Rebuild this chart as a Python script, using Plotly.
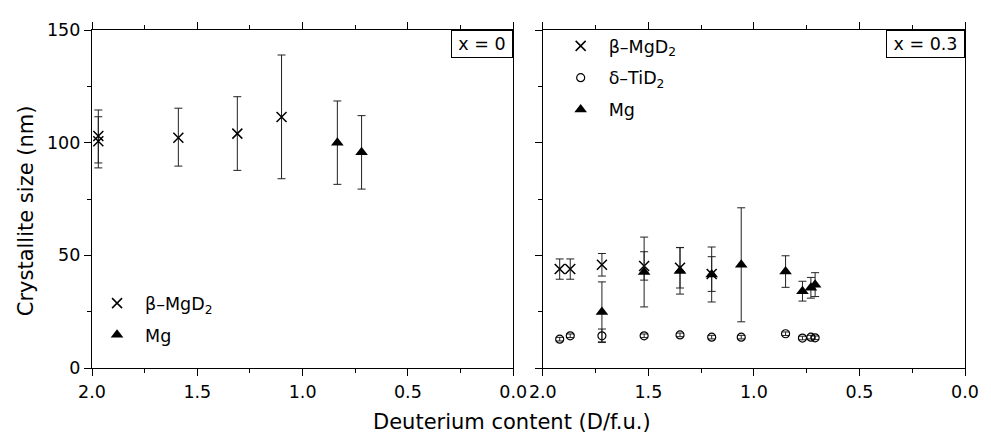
import plotly.graph_objects as go

# ---------------- data ----------------
# Left panel (x = 0)
L_mgd2_D = [1.97, 1.97, 1.59, 1.31, 1.10]
L_mgd2_size = [103.0, 100.6, 102.2, 104.0, 111.4]
L_mgd2_err_plus = [11.5, 10.9, 13.1, 16.4, 27.5]
L_mgd2_err_minus = [14.2, 9.6, 12.6, 16.3, 27.4]

L_mg_D = [0.835, 0.72]
L_mg_size = [100.0, 95.7]
L_mg_err = [18.5, 16.3]

# Right panel (x = 0.3)
R_mgd2_D = [1.92, 1.87, 1.72, 1.52, 1.35, 1.20]
R_mgd2_size = [43.9, 43.9, 45.8, 45.3, 44.5, 41.7]
R_mgd2_err = [4.5, 4.5, 5.0, 6.3, 9.0, 7.7]

R_tid2_D = [1.92, 1.87, 1.72, 1.52, 1.35, 1.20, 1.06, 0.85, 0.77, 0.73, 0.71]
R_tid2_size = [12.8, 14.3, 14.3, 14.3, 14.7, 13.7, 13.7, 15.2, 13.3, 13.7, 13.4]
R_tid2_err = [0.8, 0.8, 3.0, 0.8, 0.8, 0.8, 0.8, 0.8, 0.8, 0.8, 0.8]

R_mg_D = [1.72, 1.52, 1.35, 1.20, 1.06, 0.85, 0.77, 0.73, 0.71]
R_mg_size = [24.9, 42.6, 43.1, 41.5, 45.8, 42.8, 34.1, 35.6, 37.0]
R_mg_err = [13.3, 15.5, 10.3, 12.2, 25.3, 7.0, 4.4, 4.6, 5.3]

name_mgd2 = "β–MgD<sub>2</sub>"
name_tid2 = "δ–TiD<sub>2</sub>"
name_mg = "Mg"
label_left = "x = 0"
label_right = "x = 0.3"
x_title = "Deuterium content (D/f.u.)"
y_title = "Crystallite size (nm)"

FONT = "DejaVu Sans, Liberation Sans, Arial, sans-serif"
ERR_COLOR = "#222222"

def err(arr, minus=None):
    d = dict(type="data", array=arr, visible=True, color=ERR_COLOR, thickness=1, width=4)
    if minus is not None:
        d["symmetric"] = False
        d["arrayminus"] = minus
    return d

fig = go.Figure()

cross = dict(symbol="x-thin-open", size=10, color="black", line=dict(width=1.5, color="black"))
tri = dict(symbol="triangle-up", size=11, color="black", line=dict(width=0))
circ = dict(symbol="circle-open", size=8, color="black", line=dict(width=1.2, color="black"))

fig.add_trace(go.Scatter(x=L_mgd2_D, y=L_mgd2_size, mode="markers", name=name_mgd2,
                         marker=cross, error_y=err(L_mgd2_err_plus, L_mgd2_err_minus),
                         xaxis="x", yaxis="y", legend="legend", legendgroup="a"))
fig.add_trace(go.Scatter(x=L_mg_D, y=L_mg_size, mode="markers", name=name_mg,
                         marker=tri, error_y=err(L_mg_err),
                         xaxis="x", yaxis="y", legend="legend", legendgroup="b"))

fig.add_trace(go.Scatter(x=R_mgd2_D, y=R_mgd2_size, mode="markers", name=name_mgd2,
                         marker=cross, error_y=err(R_mgd2_err),
                         xaxis="x2", yaxis="y2", legend="legend2", legendgroup="c"))
fig.add_trace(go.Scatter(x=R_tid2_D, y=R_tid2_size, mode="markers", name=name_tid2,
                         marker=circ, error_y=err(R_tid2_err),
                         xaxis="x2", yaxis="y2", legend="legend2", legendgroup="d"))
fig.add_trace(go.Scatter(x=R_mg_D, y=R_mg_size, mode="markers", name=name_mg,
                         marker=tri, error_y=err(R_mg_err),
                         xaxis="x2", yaxis="y2", legend="legend2", legendgroup="e"))

# The page body has an 8px default margin: the figure is drawn 8px right/down.
OFF = 8
PAGE_W, PAGE_H = 991, 437
W, H = PAGE_W - OFF, PAGE_H - OFF
# plot-area edges in page pixels
P_LEFT, P_RIGHT, P_TOP, P_BOTTOM = 92, 977, 25, 368
ML = P_LEFT - OFF
MT = P_TOP - OFF
MR = PAGE_W - P_RIGHT
MB = PAGE_H - P_BOTTOM
PW = P_RIGHT - P_LEFT
PH = P_BOTTOM - P_TOP

def px_x(p):
    return (p - P_LEFT) / PW

def px_y(p):
    return (P_BOTTOM - p) / PH

d_left = [0, px_x(519)]
d_right = [px_x(549), 1]

xax = dict(range=[2.0, 0.0], autorange=False, dtick=0.5, tick0=0, tickformat=".1f",
           ticks="outside", ticklen=7, tickwidth=1.2, tickcolor="black",
           showline=True, linecolor="black", linewidth=1.2, mirror="ticks",
           showgrid=False, zeroline=False,
           minor=dict(dtick=0.25, ticks="outside", ticklen=4, tickwidth=1.2, tickcolor="black", showgrid=False),
           tickfont=dict(family=FONT, size=17.5, color="black"), ticklabelstandoff=1)
yax = dict(range=[0, 150], autorange=False, dtick=50, tick0=0,
           ticks="outside", ticklen=7, tickwidth=1.2, tickcolor="black",
           showline=True, linecolor="black", linewidth=1.2, mirror=True,
           showgrid=False, zeroline=False,
           minor=dict(dtick=25, ticks="outside", ticklen=4, tickwidth=1.2, tickcolor="black", showgrid=False),
           tickfont=dict(family=FONT, size=17.5, color="black"), ticklabelstandoff=0)

fig.update_layout(
    width=W, height=H,
    margin=dict(l=ML, r=MR, t=MT, b=MB, pad=0),
    paper_bgcolor="white", plot_bgcolor="white",
    font=dict(family=FONT, size=17.5, color="black"),
    xaxis=dict(domain=d_left, anchor="y", **xax),
    yaxis=dict(domain=[0, 1], anchor="x", **yax),
    xaxis2=dict(domain=d_right, anchor="y2", **xax),
    yaxis2=dict(domain=[0, 1], anchor="x2", showticklabels=False, **yax),
    legend=dict(x=px_x(89), y=px_y(284), xanchor="left", yanchor="top",
                bgcolor="rgba(0,0,0,0)", borderwidth=0, tracegroupgap=6,
                font=dict(family=FONT, size=17.5, color="black"), itemwidth=46),
    legend2=dict(x=px_x(559), y=px_y(23), xanchor="left", yanchor="top",
                 bgcolor="rgba(0,0,0,0)", borderwidth=0, tracegroupgap=6,
                 font=dict(family=FONT, size=17.5, color="black"), itemwidth=46),
    showlegend=True,
    annotations=[
        dict(text=label_left, xref="paper", yref="paper", x=px_x(519), y=1,
             xanchor="right", yanchor="top", showarrow=False, width=60, height=26,
             bordercolor="black", borderwidth=1, borderpad=0, bgcolor="white",
             font=dict(family=FONT, size=17.5, color="black")),
        dict(text=label_right, xref="paper", yref="paper", x=1, y=1,
             xanchor="right", yanchor="top", showarrow=False, width=77, height=26,
             bordercolor="black", borderwidth=1, borderpad=0, bgcolor="white",
             font=dict(family=FONT, size=17.5, color="black")),
        dict(text=x_title, xref="paper", yref="paper", x=px_x(518), y=px_y(423),
             xanchor="center", yanchor="middle", showarrow=False,
             font=dict(family=FONT, size=21, color="black")),
        dict(text=y_title, xref="paper", yref="paper", x=px_x(25), y=px_y(208),
             xanchor="center", yanchor="middle", showarrow=False, textangle=-90,
             font=dict(family=FONT, size=21, color="black")),
    ],
)

fig.write_html("out.html")
